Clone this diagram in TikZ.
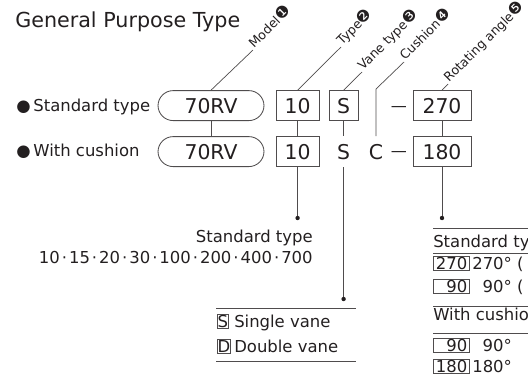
\documentclass[tikz,border=0pt]{standalone}
\usepackage{fontspec}
\setmainfont{DejaVu Sans}
\usepackage{xcolor}
\definecolor{ink}{HTML}{231F20}
\newcommand{\sepdot}{\makebox[0.56em]{·}}
\newcommand{\circnum}[1]{{\fontsize{11.5}{12}\selectfont#1}}

\begin{document}
\begin{tikzpicture}[scale = 1,
  every node/.style={text=ink},
  line/.style={draw=ink!80, line width=0.5pt},
  txt/.style={font=\fontsize{11.7}{14}\selectfont, inner sep=0pt},
  code/.style={draw=ink!80, line width=0.6pt, font=\fontsize{14.5}{17}\selectfont, minimum height=0.75cm, inner sep=0pt},
  pill/.style={code, rounded corners=0.38cm, minimum width=2.65cm},
  lead/.style={rotate=45, anchor=base west, inner sep=1pt, font=\fontsize{9}{10}\selectfont},
  keybox/.style={draw=ink!80, line width=0.5pt, inner xsep=0.2pt, inner ysep=0.6pt, text depth=0pt, anchor=base west, font=\fontsize{11.7}{14}\selectfont},
  numbox/.style={keybox, inner xsep=0.05cm, text width=0.8cm, align=right}]
\useasboundingbox (0,0) rectangle (13.2,-9.6);
\clip (0,0) rectangle (13.2,-9.6);
\node[anchor=base west, inner sep=0pt, font=\fontsize{14.7}{17}\selectfont] (title) at (0.375,-0.675) {General Purpose Type};
\node[txt, anchor=base west] (std) at (0.4,-2.775) {●\,Standard type};
\node[txt, anchor=base west] (cus) at (0.4,-3.9) {●\,With cushion};
\node[pill] (m1) at (5.275,-2.64) {70RV};
\node[pill] (m2) at (5.275,-3.79) {70RV};
\node[code, minimum width=1.075cm] (t1) at (7.44,-2.64) {10};
\node[code, minimum width=1.075cm] (t2) at (7.44,-3.79) {10};
\node[code, minimum width=0.725cm] (v1) at (8.59,-2.64) {S};
\node[code, draw=none] (v2) at (8.59,-3.79) {S};
\node[code, draw=none] (c2) at (9.4,-3.79) {C};
\node[inner sep=0pt, font=\fontsize{11.4}{14}\selectfont] (h1) at (9.975,-2.72) {—};
\node[inner sep=0pt, font=\fontsize{11.4}{14}\selectfont] (h2) at (9.975,-3.86) {—};
\node[code, minimum width=1.45cm] (a1) at (11.05,-2.64) {270};
\node[code, minimum width=1.45cm] (a2) at (11.05,-3.79) {180};
\coordinate (k1) at (6.325,-1.25);
\coordinate (k2) at (8.525,-1.175);
\coordinate (k3) at (9.05,-1.8);
\coordinate (kc) at (9.4,-2.225);
\coordinate (k4) at (10.1,-1.55);
\coordinate (k5) at (11.2,-2.1);
\draw[line] (m1.north) -- (k1);
\draw[line] (t1.north) -- (k2);
\draw[line] (v1.north) -- (k3);
\draw[line] (c2.north) -- (kc) -- (k4);
\draw[line] (a1.north) -- (k5);
\node[lead] (l1) at (k1) {Model\circnum{❶}};
\node[lead] (l2) at (k2) {Type\circnum{❷}};
\node[lead] (l3) at (k3) {Vane type\circnum{❸}};
\node[lead] (l4) at (k4) {Cushion\circnum{❹}};
\node[lead] (l5) at (k5) {Rotating angle\circnum{❺}};
\draw[line] (m1.south) -- (m2.north);
\draw[line] (t1.south) -- (t2.north);
\draw[line] (v1.south) -- (v2.north);
\draw[line] (a1.south) -- (a2.north);
\coordinate (e1) at (7.44,-5.45);
\coordinate (e2) at (8.59,-7.475);
\coordinate (e3) at (11.05,-5.45);
\draw[line] (t2.south) -- (e1);
\draw[line] (v2.south) -- (e2);
\draw[line] (a2.south) -- (e3);
\fill[ink] (e1) circle (0.055);
\fill[ink] (e2) circle (0.055);
\fill[ink] (e3) circle (0.055);
\node[txt, anchor=base east] (std2) at (7.825,-6.05) {Standard type};
\node[txt, anchor=base east] (sizes) at (7.825,-6.575) {10\sepdot 15\sepdot 20\sepdot 30\sepdot 100\sepdot 200\sepdot 400\sepdot 700};
\draw[line] (5.4,-7.7) -- (8.9,-7.7);
\node[keybox] (ks) at (5.425,-8.175) {S};
\node[txt, anchor=base west] (single) at (5.85,-8.175) {Single vane};
\node[keybox] (kd) at (5.425,-8.8) {D};
\node[txt, anchor=base west] (double) at (5.85,-8.8) {Double vane};
\draw[line] (5.4,-9.025) -- (8.9,-9.025);
\draw[line] (10.825,-5.7) -- (13.2,-5.7);
\node[txt, anchor=base west] (std3) at (10.825,-6.175) {Standard type};
\draw[line] (10.825,-6.325) -- (13.2,-6.325);
\node[numbox] (n270) at (10.825,-6.74) {270};
\node[txt, anchor=base west] (d270) at (11.8,-6.74) {270° (};
\node[numbox] (n90a) at (10.825,-7.31) {90};
\node[txt, anchor=base west] (d90a) at (12.06,-7.31) {90° (};
\draw[line] (10.825,-7.65) -- (13.2,-7.65);
\node[txt, anchor=base west] (cus2) at (10.825,-8.0) {With cushion};
\draw[line] (10.825,-8.325) -- (13.2,-8.325);
\node[numbox] (n90b) at (10.825,-8.775) {90};
\node[txt, anchor=base west] (d90b) at (12.06,-8.775) {90°};
\node[numbox] (n180) at (10.825,-9.3) {180};
\node[txt, anchor=base west] (d180) at (11.8,-9.3) {180°};
\end{tikzpicture}
\end{document}
